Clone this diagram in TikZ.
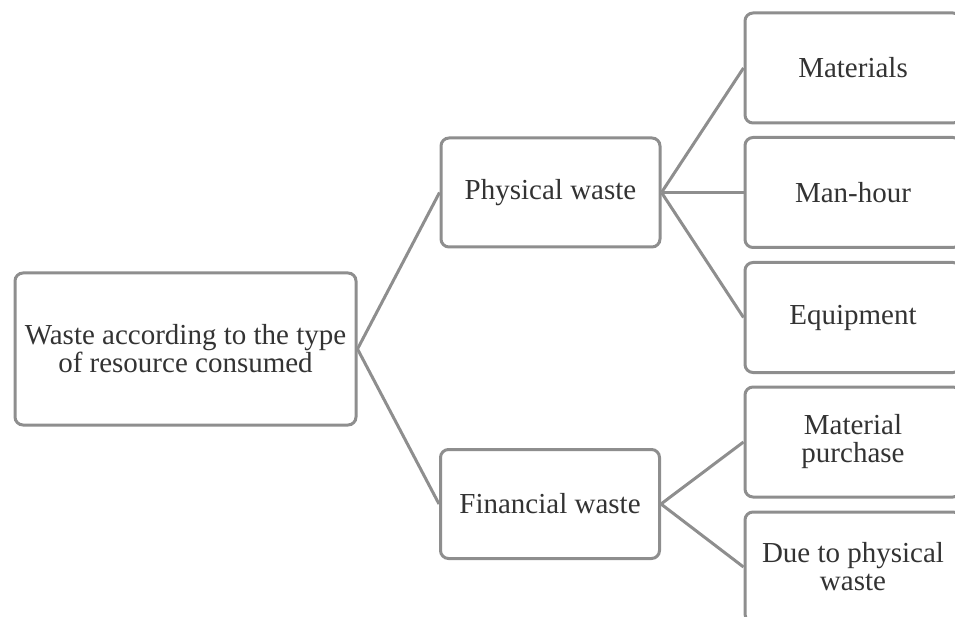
\documentclass[tikz,border=0pt]{standalone}
\usepackage{fontspec}
\setmainfont{Liberation Serif}
\usetikzlibrary{positioning}
\definecolor{boxgray}{HTML}{8E8E8E}
\definecolor{textgray}{HTML}{333333}
\tikzset{
  % Riquadri
  box/.style={draw=boxgray,line width=3,rounded corners=8,fill=white,text=textgray,
    align=center,inner sep=0,font=\fontsize{29}{28}\selectfont},
  box root/.style={box,minimum width=341,minimum height=152},
  box mid/.style={box,minimum width=219,minimum height=109},
  box leaf/.style={box,minimum width=216,minimum height=110},
  % Collegamenti
  connect/.style={draw=boxgray,line width=3}
}
\begin{document}
\begin{tikzpicture}[x=1pt,y=-1pt]
  \useasboundingbox (0,0) rectangle (955,617);
  \clip (0,0) rectangle (955,617);
  \node[box root] (root) at (185.5,349) {Waste according to the type\\of resource consumed};
  \node[box mid] (phys) at (550.5,192.5) {Physical waste};
  \node[box mid] (fin) at (550,504) {Financial waste};
  \foreach \name/\py/\txt in {mat/68/Materials, man/192.5/Man-hour, equ/317.5/Equipment,
                              pur/442/{Material\\purchase}, due/567/{Due to physical\\waste}}{
    \node[box leaf] (\name) at (853,\py) {\txt};
  }
  \draw[connect] (root.east) -- (phys.west);
  \draw[connect] (root.east) -- (fin.west);
  \foreach \leaf in {mat,man,equ}{
    \draw[connect] (phys.east) -- (\leaf.west);
  }
  \foreach \leaf in {pur,due}{
    \draw[connect] (fin.east) -- (\leaf.west);
  }
\end{tikzpicture}
\end{document}
